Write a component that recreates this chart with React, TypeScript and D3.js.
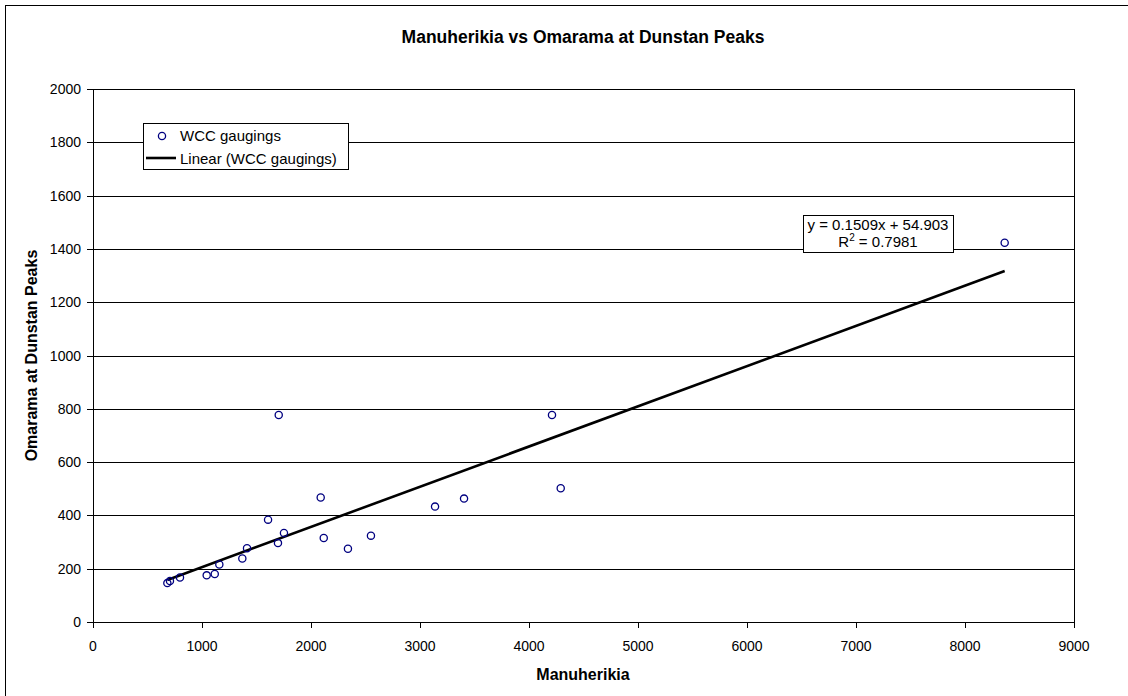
import React from 'react'
import * as d3 from 'd3'

// gaugings
const manuherikia = [682, 706, 798, 1043, 1117, 1159, 1370, 1413, 1606, 1704, 1697, 1752, 2089, 2117, 2339, 2550, 3138, 3404, 4211, 4291, 8364]
const omarama = [146, 154, 167, 175, 180, 216, 238, 277, 384, 777, 296, 334, 467, 315, 275, 324, 433, 463, 777, 502, 1423]

const xTicks = [0, 1000, 2000, 3000, 4000, 5000, 6000, 7000, 8000, 9000]
const yTicks = [0, 200, 400, 600, 800, 1000, 1200, 1400, 1600, 1800, 2000]

const trendSlope = 0.1509
const trendIntercept = 54.903

const font = 'Arial, "Liberation Sans", sans-serif'

function App() {
    const margin = { left: 93, right: 1074, top: 89, bottom: 622 }
    const x = d3.scaleLinear().domain([0, 9000]).range([margin.left, margin.right])
    const y = d3.scaleLinear().domain([0, 2000]).range([margin.bottom, margin.top])

    const points = manuherikia.map((v, i) => ({ x: v, y: omarama[i] }))
    const xMin = d3.min(manuherikia) as number
    const xMax = d3.max(manuherikia) as number
    const trend = d3.line<number>()
        .x(d => x(d))
        .y(d => y(trendSlope * d + trendIntercept))([xMin, xMax])

    const crisp = (v: number) => Math.round(v) + 0.5

    return (
        <svg width={1128} height={696} style={{ position: 'fixed', left: 0, top: 0, background: '#fff' }} fontFamily={font}>
            <rect x={0} y={0} width={1128} height={696} fill="#fff" />
            {/* chart area border, runs off the right and bottom */}
            <rect x={5.5} y={5.5} width={1200} height={760} fill="none" stroke="#000" strokeWidth={1} />

            <text x={583} y={43} textAnchor="middle" fontSize={17.5} fontWeight="bold">
                Manuherikia vs Omarama at Dunstan Peaks
            </text>

            {/* gridlines */}
            {yTicks.map(t => (
                <line key={'g' + t} x1={margin.left} x2={margin.right} y1={crisp(y(t))} y2={crisp(y(t))} stroke="#000" strokeWidth={1} />
            ))}
            <line x1={crisp(margin.right)} x2={crisp(margin.right)} y1={margin.top} y2={margin.bottom} stroke="#000" />

            {/* y axis */}
            <line x1={crisp(margin.left)} x2={crisp(margin.left)} y1={margin.top} y2={margin.bottom + 1} stroke="#000" />
            {yTicks.map(t => (
                <g key={'y' + t}>
                    <line x1={margin.left - 6} x2={margin.left} y1={crisp(y(t))} y2={crisp(y(t))} stroke="#000" />
                    <text x={81} y={y(t) + 5} textAnchor="end" fontSize={14}>{t}</text>
                </g>
            ))}

            {/* x axis */}
            {xTicks.map(t => (
                <g key={'x' + t}>
                    <line x1={crisp(x(t))} x2={crisp(x(t))} y1={margin.bottom} y2={margin.bottom + 6} stroke="#000" />
                    <text x={x(t)} y={651} textAnchor="middle" fontSize={14}>{t}</text>
                </g>
            ))}

            <text x={583} y={680} textAnchor="middle" fontSize={16} fontWeight="bold">Manuherikia</text>
            <text transform={`translate(37, ${(margin.top + margin.bottom) / 2}) rotate(-90)`} textAnchor="middle" fontSize={16} fontWeight="bold">
                Omarama at Dunstan Peaks
            </text>

            {/* trend line */}
            <path d={trend || ''} fill="none" stroke="#000" strokeWidth={2.6} />

            {/* gaugings */}
            {points.map((p, i) => (
                <circle key={i} cx={x(p.x)} cy={y(p.y)} r={3.6} fill="none" stroke="#000080" strokeWidth={1.3} />
            ))}

            {/* legend */}
            <rect x={143.5} y={123.5} width={205} height={46} fill="#fff" stroke="#000" />
            <circle cx={162} cy={136} r={3.6} fill="none" stroke="#000080" strokeWidth={1.3} />
            <text x={180} y={141} fontSize={15}>WCC gaugings</text>
            <line x1={146} x2={176} y1={158} y2={158} stroke="#000" strokeWidth={2.6} />
            <text x={180} y={164} fontSize={15}>Linear (WCC gaugings)</text>

            {/* equation label */}
            <rect x={803.5} y={215.5} width={150} height={37} fill="#fff" stroke="#000" />
            <text x={878} y={230} textAnchor="middle" fontSize={15}>y = 0.1509x + 54.903</text>
            <text x={878} y={247} textAnchor="middle" fontSize={15}>
                R<tspan dy={-6} fontSize={10}>2</tspan><tspan dy={6}> = 0.7981</tspan>
            </text>
        </svg>
    )
}

export default App
